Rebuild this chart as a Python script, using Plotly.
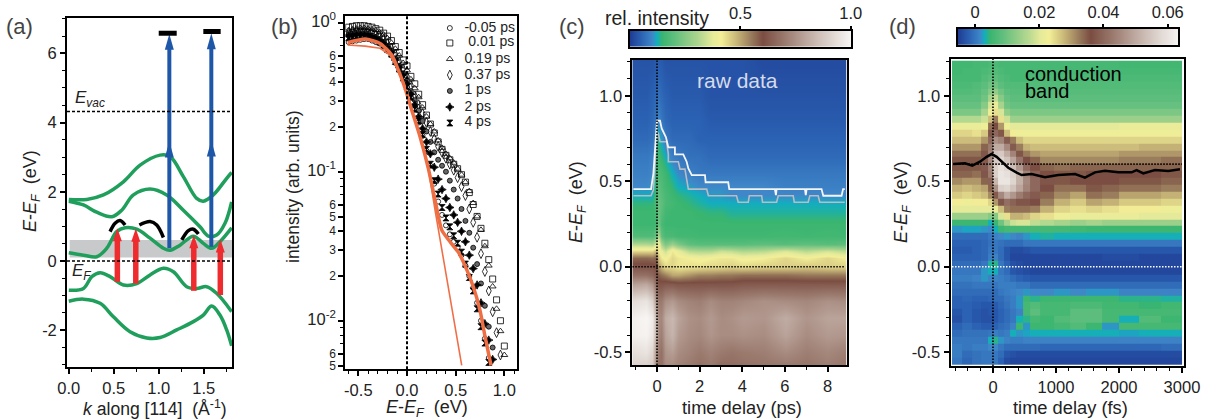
import numpy as np
import plotly.graph_objects as go

W, H = 1205, 420
FONT = "Liberation Sans"
TXT = "#222222"

# ---------- panel (a) ----------
a_k1 = [0, .2, .385, .607, .793, 1.015, 1.126, 1.274, 1.422, 1.496, 1.607, 1.756, 1.811]
a_e1 = [1.78, 1.78, 1.91, 2.29, 2.77, 3.06, 3.02, 2.44, 1.81, 1.73, 1.91, 2.39, 2.56]
a_k2 = [0, .163, .311, .478, .589, .719, .904, 1.089, 1.274, 1.459, 1.552, 1.644, 1.737, 1.811]
a_e2 = [1.73, 1.62, 1.41, 1.28, 1.47, 1.91, 2.08, 1.91, 1.47, .99, .72, .75, 1.09, 1.71]
a_k3 = [0, .163, .311, .422, .533, .626, .756, .904, 1.052, 1.126, 1.237, 1.385, 1.496, 1.589, 1.681, 1.811]
a_e3 = [.24, .17, .125, .37, .85, .96, .92, .66, .37, .31, .46, .72, .51, .37, .56, .96]
a_k4 = [0, .163, .256, .348, .459, .607, .756, .904, 1.052, 1.163, 1.311, 1.422, 1.533, 1.644, 1.811]
a_e4 = [-.84, -.79, -.45, -.34, -.45, -.69, -.65, -.40, -.21, -.31, -.74, -.79, -.74, -.93, -1.46]
a_k5 = [0, .163, .348, .496, .681, .867, 1.015, 1.2, 1.385, 1.496, 1.589, 1.681, 1.756, 1.811]
a_e5 = [-1.16, -1.10, -1.22, -1.61, -2.04, -2.22, -2.21, -1.99, -1.75, -1.56, -1.30, -1.56, -1.99, -2.45]
a_bands = [(a_k1, a_e1), (a_k2, a_e2), (a_k3, a_e3), (a_k4, a_e4), (a_k5, a_e5)]
arc_k = [[.459, .515, .57, .626], [.785, .904, .978, 1.052], [1.256, 1.33, 1.385, 1.441]]
arc_e = [[.85, 1.09, 1.17, 1.04], [1.04, 1.14, 1.04, .68], [.61, .88, .92, .78]]
red_k = [.54, .745, 1.39, 1.685]
red_bottom = [-.6, -.65, -.86, -.98]
red_top = [.95, .94, .75, .63]
blue_k = [1.118, 1.585]
blue_bottom = [.37, .41]
blue_mid = [3.45, 3.48]
blue_top = [6.56, 6.58]
bar_k = [[1.0, 1.2], [1.496, 1.689]]
bar_e = [6.58, 6.63]
E_vac = 4.32
gray_band = [.1, .61]

# ---------- panel (b) ----------
b_E = [-.60, -.56, -.52, -.48, -.44, -.40, -.36, -.32, -.28, -.24, -.20, -.16, -.12, -.08, -.04, 0,
       .04, .08, .12, .16, .20, .24, .28, .32, .36, .40, .44, .48, .52, .56, .60, .64, .68, .72, .76,
       .80, .84, .88, .92, .96, 1.0]
b_labels = ["-0.05 ps", " 0.01 ps", "0.19 ps", "0.37 ps", "1 ps", "2 ps", "4 ps"]
b_symbols = ["circle-open", "square-open", "triangle-up-open", "diamond-tall-open", "circle", "star-diamond", "hourglass"]
log_m005 = [-.13, -.125, -.12, -.115, -.11, -.11, -.12, -.13, -.14, -.16, -.19, -.22, -.27, -.32, -.38, -.43,
            -.5, -.58, -.67, -.76, -.86, -.96, -1.08, -1.2, -1.29, -1.36, -1.42, -1.47, -1.51, -1.56, -1.63,
            -1.7, -1.78, -1.88, -2.0, -2.12, -2.25]
log_001 = [-.03, -.025, -.02, -.02, -.02, -.025, -.03, -.04, -.05, -.07, -.09, -.12, -.16, -.2, -.25, -.29,
           -.36, -.41, -.48, -.55, -.62, -.68, -.74, -.80, -.85, -.89, -.92, -.95, -.98, -1.02, -1.07,
           -1.14, -1.22, -1.30, -1.38, -1.48, -1.59, -1.72, -1.86, -2.0, -2.17]
log_019 = [-.05, -.045, -.04, -.035, -.035, -.04, -.045, -.05, -.065, -.08, -.105, -.135, -.175, -.22, -.27, -.32,
           -.38, -.44, -.5, -.57, -.63, -.68, -.73, -.79, -.84, -.88, -.91, -.94, -.98, -1.02, -1.07,
           -1.13, -1.21, -1.30, -1.39, -1.50, -1.63, -1.77, -1.92, -2.07, -2.23]
log_037 = [-.07, -.065, -.06, -.06, -.06, -.065, -.07, -.08, -.09, -.11, -.14, -.17, -.21, -.26, -.31, -.36,
           -.42, -.49, -.55, -.61, -.67, -.73, -.78, -.83, -.87, -.91, -.95, -.99, -1.04, -1.10, -1.16,
           -1.25, -1.34, -1.44, -1.55, -1.67, -1.80, -1.94, -2.08, -2.23]
log_1 = [-.08, -.075, -.07, -.07, -.07, -.075, -.085, -.095, -.11, -.13, -.16, -.19, -.24, -.29, -.34, -.39,
         -.46, -.52, -.59, -.66, -.73, -.8, -.87, -.92, -.96, -1.0, -1.06, -1.12, -1.18, -1.25, -1.33,
         -1.41, -1.51, -1.62, -1.75, -1.9, -2.04, -2.18]
log_2 = [-.09, -.085, -.08, -.08, -.08, -.085, -.095, -.105, -.12, -.14, -.17, -.2, -.25, -.3, -.35, -.41,
         -.48, -.55, -.63, -.71, -.8, -.88, -.97, -1.05, -1.12, -1.18, -1.24, -1.29, -1.34, -1.4, -1.47,
         -1.56, -1.65, -1.76, -1.88, -2.02, -2.13, -2.26]
log_4 = [-.1, -.095, -.09, -.09, -.09, -.095, -.105, -.115, -.13, -.15, -.18, -.21, -.26, -.31, -.37, -.43,
         -.5, -.58, -.66, -.75, -.85, -.95, -1.06, -1.15, -1.24, -1.31, -1.37, -1.43, -1.48, -1.54, -1.62,
         -1.71, -1.8, -1.92, -2.04, -2.15, -2.28]
b_logs = [log_m005, log_001, log_019, log_037, log_1, log_2, log_4]
thick_E = [-.61, -.43, -.277, -.157, -.089, -.02, .048, .134, .219, .288, .356, .442, .527, .596, .68, .75, .80, .863]
thick_log = [-.134, -.11, -.139, -.217, -.318, -.44, -.586, -.765, -.978, -1.19, -1.39, -1.47, -1.54, -1.63, -1.77, -1.93, -2.1, -2.30]
thin_E = [-.61, -.43, -.277, -.175, -.089, -.02, .048, .134, .219, .288, .562]
thin_log = [-.15, -.157, -.172, -.217, -.318, -.44, -.586, -.765, -.978, -1.257, -2.30]
b_key_E = .44
b_text_E = .59
b_key_log = [-.036, -.136, -.244, -.351, -.458, -.566, -.673]

# ---------- panel (c) ----------
c_t = [-1.16, -.5, -.2, -.05, .05, .2, .4, .7, 1.0, 1.5, 2, 2.5, 3, 3.5, 4, 5, 6, 7, 8, 8.9]
c_E = [1.21, 1.0, .85, .75, .65, .55, .47, .42, .37, .32, .25, .18, .13, .09, .05, 0, -.05, -.1, -.2, -.3, -.4, -.5, -.575]
c_rows = [
    [3, 3, 3, 4, 4, 4, 3, 3, 3, 3, 3, 3, 3, 3, 3, 2, 2, 2, 2, 2],
    [4, 4, 5, 6, 7, 6, 5, 4, 4, 4, 4, 3, 3, 3, 3, 3, 3, 3, 3, 3],
    [5, 5, 6, 8, 10, 8, 6, 5, 5, 5, 5, 4, 4, 4, 4, 4, 4, 4, 4, 4],
    [6, 6, 7, 12, 13, 11, 8, 6, 6, 6, 5, 5, 5, 5, 5, 5, 5, 5, 5, 5],
    [8, 8, 9, 14, 16, 14, 12, 9, 8, 7, 7, 6, 6, 6, 6, 6, 6, 6, 6, 6],
    [9, 9, 10, 15, 18, 17, 15, 12, 10, 9, 8, 8, 8, 8, 8, 8, 8, 8, 8, 8],
    [10, 10, 11, 16, 20, 18, 16, 14, 12, 11, 10, 10, 10, 10, 10, 10, 9, 9, 9, 9],
    [12, 12, 12, 17, 21, 19, 17, 15, 14, 13, 12, 11, 11, 10, 10, 10, 10, 10, 10, 10],
    [14, 14, 14, 18, 22, 20, 17, 16, 15, 14, 13, 12, 12, 12, 12, 12, 12, 12, 12, 12],
    [15, 15, 15, 17, 22, 19, 16, 15, 15, 15, 14.5, 14, 14, 13, 13, 13, 13, 13, 13, 13],
    [15, 15, 15, 16, 23, 17, 15, 15, 15, 15, 15, 15, 15, 15, 15, 15, 15, 15, 15, 15],
    [18, 18, 18, 22, 32, 20, 17, 17, 16, 16, 15.5, 15.5, 15.5, 15.5, 15.5, 15.5, 16, 15.5, 16, 15.5],
    [31, 31, 30, 36, 42, 30, 24, 28, 24, 20, 19, 19, 19, 19, 19, 20, 19, 20, 19, 20],
    [44, 44, 44, 48, 42, 38, 34, 42, 38, 32, 31, 31, 34, 33, 31, 32, 36, 32, 35, 32],
    [57, 57, 56, 58, 46, 42, 40, 44, 42, 41, 40, 41, 42, 42, 40, 41, 44, 41, 44, 41],
    [62, 62, 62, 60, 52, 48, 44, 44, 42, 43, 43, 44, 44, 45, 44, 45, 45, 46, 45, 45],
    [68, 68, 66, 62, 58, 56, 54, 50, 50, 52, 54, 54, 55, 55, 56, 56, 56, 55, 55, 55],
    [78, 80, 76, 66, 62, 62, 63, 63, 62, 62, 62, 62, 62, 62, 63, 63, 63, 63, 63, 63],
    [93, 95, 90, 74, 70, 70, 75, 77, 74, 72, 71, 74, 72, 72, 73, 75, 74, 73, 75, 74],
    [98, 100, 97, 82, 74, 73, 81, 84, 79, 75, 74, 77, 74, 75, 77, 76, 81, 76, 79, 79],
    [98, 99, 96, 80, 73, 71, 79, 83, 77, 74, 73, 76, 74, 74, 75, 74, 79, 74, 77, 76],
    [93, 95, 91, 74, 70, 68, 76, 78, 74, 72, 70, 72, 70, 69, 70, 71, 74, 71, 73, 71],
    [90, 90, 88, 72, 68, 68, 74, 74, 72, 70, 68, 70, 67, 67, 68, 69, 70, 69, 71, 69],
]
c_white_t = [-1.11, -.28, -.17, 0, .14, .22, .42, .53, .84, .84, 1.23, 1.39, 1.47, 1.63, 2.25, 2.28, 3.34, 3.39,
             5.53, 5.58, 5.61, 6.94, 6.98, 7.02, 7.72, 7.8, 8.66, 8.73, 8.81]
c_white_E = [.454, .454, .546, .854, .854, .809, .757, .698, .698, .657, .657, .614, .575, .536, .536, .494, .494, .454,
             .454, .419, .454, .454, .419, .454, .454, .415, .415, .454, .454]
c_gray_t = [-1.11, -.28, -.17, 0, .06, .14, .45, .53, .53, 1.0, 1.08, 1.31, 1.47, 2.33, 2.41, 3.73, 3.81, 4.28, 4.33,
            4.91, 4.95, 5.61, 5.69, 6.39, 6.44, 7.09, 7.17, 7.56, 7.64, 8.81]
c_gray_E = [.415, .415, .448, .78, .78, .731, .731, .659, .614, .614, .571, .571, .454, .454, .415, .415, .377, .377, .415,
            .415, .377, .377, .415, .415, .377, .377, .415, .415, .377, .377]

# ---------- panel (d) ----------
d_t_edges = [-650, -490, -325, -185, -80, 0, 80, 170, 270, 370, 470, 585, 750, 975, 1225, 1475, 1725, 2000, 2325, 2675, 3000]
d_E = [1.185, 1.145, 1.105, 1.064, 1.024, .984, .943, .903, .863, .822, .782, .741, .701, .661, .620, .580, .540, .499,
       .459, .418, .378, .338, .297, .257, .217, .176, .136, .096, .055, .015, -.026, -.066, -.106, -.147, -.187, -.228,
       -.268, -.308, -.349, -.389, -.430, -.470, -.510, -.551]
d_rows = [  # thousandths
    [5.5, 5.5, 6, 6, 6.5, 6.5, 6, 6, 6, 6, 6, 6, 6, 6, 6, 6, 6, 5.5, 5.5, 5.5],
    [5.5, 6, 6, 6.5, 7, 7, 6.5, 6, 6, 6, 6, 6, 6, 6, 6, 6, 6, 6, 6, 6],
    [6, 6, 6, 7, 8, 8, 7, 6.5, 6, 6, 6, 6.5, 6.5, 6.5, 6.5, 6.5, 6.5, 6.5, 6.5, 6.5],
    [6.5, 6.5, 7, 8, 10, 10, 8, 7, 7, 7, 7, 7, 7, 7, 7, 7, 7, 7, 7, 7],
    [7, 7, 7.5, 9, 12, 13, 10, 8, 7.5, 7.5, 7.5, 7.5, 7.5, 7.5, 7.5, 7.5, 7.5, 7.5, 7.5, 7.5],
    [8, 8, 8, 10, 15, 17, 12, 9, 8, 8, 8, 8, 8, 8, 8, 8, 8, 8, 8, 8],
    [9, 9, 9, 12, 19, 21, 15, 10, 9, 9, 9, 9, 9, 9, 9, 9, 9, 9, 9, 9],
    [11, 11, 11, 15, 22, 24, 19, 13, 11, 11, 11, 11, 11, 11, 11, 11, 11, 11, 11, 11],
    [16, 16, 16, 18, 27, 32, 24, 18, 14, 14, 14, 14, 14, 14, 14, 14, 14, 14, 14, 14],
    [21, 21, 21, 22, 33, 36, 30, 22, 20, 20, 20, 20, 20, 20, 20, 20, 20, 21, 21, 21],
    [25, 25, 24, 26, 37, 40, 35, 27, 23, 22, 22, 22, 22, 22, 22, 22, 22, 22, 22, 22],
    [27, 27, 27, 30, 40, 46, 44, 38, 32, 27, 25, 25, 25, 25, 25, 25, 25, 25, 25, 25],
    [30, 30, 30, 34, 43, 50, 50, 45, 38, 32, 28, 27, 27, 27, 27, 27, 27, 27, 28, 28],
    [33, 33, 33, 37, 44, 54, 55, 50, 44, 37, 32, 30, 29, 29, 29, 29, 29, 30, 30, 30],
    [35, 35, 35, 38, 45, 55, 57, 54, 49, 42, 36, 34, 31, 31, 31, 31, 31, 32, 32, 33],
    [35, 35, 35, 38, 44, 56, 59, 57, 53, 47, 40, 36, 34, 33, 34, 34, 34, 34, 34, 34],
    [34, 34, 33, 37, 43, 56, 60, 59, 56, 51, 44, 39, 36, 35, 35, 36, 36, 36, 36, 35],
    [31, 30, 30, 34, 39, 52, 60, 60, 57, 51, 45, 40, 37, 35, 36, 36, 36, 35, 35, 34],
    [28, 27, 28, 29, 34, 46, 56, 57, 54, 49, 44, 40, 36, 33, 33, 35, 34, 33, 33, 32],
    [26, 25, 26, 27, 31, 38, 45, 50, 47, 43, 40, 38, 34, 31, 29, 33, 32, 29, 29, 28],
    [23, 22, 23, 23, 25, 30, 37, 41, 39, 37, 37, 36, 32, 28, 26, 29, 28, 26, 26, 25],
    [20, 20, 20, 20, 20, 21, 27, 32, 33, 33, 33, 32, 28, 25, 24, 25, 24, 23, 23, 22],
    [14, 14, 14, 14, 12, 12, 19, 24, 28, 28, 27, 25, 24, 22, 21, 21, 21, 21, 20, 20],
    [5, 5, 5, 5, 3, 5, 10, 15, 18, 19, 19, 17, 16, 15, 14, 15, 14, 14, 14, 14],
    [2, 2.5, 2.5, 2, 1.5, 3, 5, 6, 6, 6, 6, 6, 6, 6, 5.5, 5, 5, 5, 5, 5],
    [-1, -1, -1, -1, 0, 1, 1.5, 2, 1.5, 1, 2, 3, 3.5, 3, 3, 3, 3, 3, 3, 3],
    [-2, -2, -2, -1.5, -.5, 0, -.5, -1, -1, -1, 0, 0, 0, 0, 0, 0, 0, 0, 0, 0],
    [-2.5, -2.5, -2, -1.5, 0, 0, -1, -3, -4, -4, -3.5, -3, -3, -3, -3, -3, -3, -3, -3, -3],
    [-2, -2, -2, -1.5, .5, 1, -1, -3, -4.5, -4.5, -4.5, -4.5, -4.5, -4.5, -4.5, -4.5, -4, -4, -4.5, -4.5],
    [-1, -1, -1, 0, 3.5, 4, 0, -2, -3.5, -4, -4.5, -4.5, -4.5, -4.5, -4.5, -4.5, -4.5, -4.5, -4.5, -4.5],
    [0, 0, 0, 2, 3, 3, 0, -1, -3, -3.5, -4, -4.5, -4.5, -4.5, -4.5, -4.5, -4.5, -4.5, -4.5, -4.5],
    [.5, .5, 1, 2, 1, 1, .5, 0, -1, -2, -2.5, -3, -3, -3, -3, -3, -3, -3, -3, -3],
    [-.5, -.5, 0, 0, 0, 0, .5, .5, .5, 0, 0, -1, -1, -1, -1, -1, -1, -1, -1, -1],
    [-1, -1, -1, -1, -1, -1, 0, .5, 1, 1.5, 2, 1.5, 1.5, 2, 1.5, 2, 2, 1, 1, 1],
    [-2, -1.5, -2, -2, -1.5, -1, -1, 0, .5, 2, 5, 4, 5, 5, 5, 5, 5, 4, 4, 3.5],
    [-2, -2, -2.5, -3, -3, -2.5, -1.5, -.5, .5, 2, 6, 7, 6, 6, 6.5, 6.5, 5.5, 5.5, 4.5, 5.5],
    [-3, -2, -3, -3.5, -3, -3, -2, -1, 0, 1, 6, 8, 6, 6, 8, 8, 6, 6, 6, 6],
    [-3.5, -2, -3, -3.5, -3.5, -3, -2, -1, 0, 3, 4, 6, 5, 7, 8, 8, 6, 3, 7, 5],
    [-2, -1, -2, -2.5, -2.5, -2, -1, -.5, 1, 5, 2, 5, 5, 6, 7, 5, 2, 6, 6, 6],
    [-1, -.5, -.5, -.5, 0, .5, 0, .5, 3, 2, 2.5, 3, 3, 3, 3, 3, 3, 2.5, 3, 3],
    [0, 0, 0, 0, 3, 4, 2, 1, .5, .5, 1, 1, 1, 1, 1, 1, 1, 1, 1, 1],
    [.5, 0, .5, .5, 1.5, 1.5, 0, -1, -1, -1, -1, -1, -1.5, -1.5, -1.5, -1.5, -1.5, -1.5, -1.5, -1],
    [.5, -1, -.5, 0, 0, 0, -1, -3, -3.5, -4, -4, -4, -4, -4, -4, -4, -4, -4, -4, -4],
    [0, -1.5, -.5, 0, 0, 0, -2, -4, -4.5, -4.5, -4.5, -4.5, -4.5, -4.5, -4.5, -4.5, -4.5, -4.5, -4.5, -4.5],
]
d_line_t = [-630, -444, -328, -206, -100, -21, 58, 138, 243, 376, 455, 614, 825, 1037, 1302, 1460, 1619, 1778, 1989, 2201, 2280, 2386, 2571, 2783, 2968]
d_line_E = [.601, .605, .591, .614, .643, .659, .643, .614, .579, .55, .536, .542, .523, .536, .542, .521, .552, .561, .552, .552, .565, .546, .565, .56, .57]

colorscale = [
    [0, "#1f3d94"], [.05, "#2b62b3"], [.1, "#3f87c8"], [.12, "#12aebf"], [.145, "#39b56f"],
    [.2, "#5fbe7d"], [.3, "#a9d48d"], [.37, "#e5ea9a"], [.41, "#f3ef97"], [.48, "#c8b678"],
    [.55, "#96785a"], [.6, "#7b4d42"], [.7, "#9b7a6e"], [.8, "#bda89f"], [.9, "#dcd2cc"], [1, "#f8f6f4"],
]

def px_x(p0, p1):
    return [p0 / W, p1 / W]

def px_y(top, bottom):
    return [1 - bottom / H, 1 - top / H]

fig = go.Figure()

# panel a
for k, e in a_bands:
    fig.add_trace(go.Scatter(x=k, y=e, xaxis="x", yaxis="y", mode="lines",
                             line=dict(color="#1f9f5b", width=3.5, shape="spline", smoothing=1)))
for k, e in zip(arc_k, arc_e):
    fig.add_trace(go.Scatter(x=k, y=e, xaxis="x", yaxis="y", mode="lines",
                             line=dict(color="black", width=3.5, shape="spline")))

def arrow(k, e0, e1, color, shaft, hw, hl):
    fig.add_trace(go.Scatter(x=[k, k], y=[e0, e1 - hl * .8], xaxis="x", yaxis="y", mode="lines",
                             line=dict(color=color, width=shaft)))
    fig.add_trace(go.Scatter(x=[k - hw, k, k + hw, k - hw], y=[e1 - hl, e1, e1 - hl, e1 - hl],
                             xaxis="x", yaxis="y", mode="lines", fill="toself", fillcolor=color,
                             line=dict(color=color, width=0)))

for k, b, m, t in zip(blue_k, blue_bottom, blue_mid, blue_top):
    arrow(k, m - .3, t, "#1f57a8", 4, .05, .46)
    arrow(k, b, m, "#1f57a8", 4, .05, .46)
for k, b, t in zip(red_k, red_bottom, red_top):
    arrow(k, b, t, "#ee2b2e", 5.5, .05, .38)
for k, e in zip(bar_k, bar_e):
    fig.add_trace(go.Scatter(x=k, y=[e, e], xaxis="x", yaxis="y", mode="lines", line=dict(color="black", width=5)))

# panel b
sizes = [5, 6, 6, 7, 5, 6, 6]
for lg, sym, sz in zip(b_logs, b_symbols, sizes):
    color = "#666666" if sym == "circle" else "black"
    fig.add_trace(go.Scatter(x=b_E, y=10 ** np.array(lg), xaxis="x2", yaxis="y2", mode="markers",
                             marker=dict(symbol=sym, size=sz, color=color, line=dict(color="black", width=.8))))
fig.add_trace(go.Scatter(x=thin_E, y=10 ** np.array(thin_log), xaxis="x2", yaxis="y2", mode="lines",
                         line=dict(color="#ef7048", width=1.6)))
fig.add_trace(go.Scatter(x=thick_E, y=10 ** np.array(thick_log), xaxis="x2", yaxis="y2", mode="lines",
                         line=dict(color="#ef6f45", width=3.5, shape="spline", smoothing=.6)))
for lg, sym, sz, lab in zip(b_key_log, b_symbols, sizes, b_labels):
    color = "#666666" if sym == "circle" else "black"
    fig.add_trace(go.Scatter(x=[b_key_E], y=[10 ** lg], xaxis="x2", yaxis="y2", mode="markers",
                             marker=dict(symbol=sym, size=sz, color=color, line=dict(color="black", width=.8))))
    fig.add_trace(go.Scatter(x=[b_text_E], y=[10 ** lg], xaxis="x2", yaxis="y2", mode="text",
                             text=[lab], textposition="middle right",
                             textfont=dict(family=FONT, size=14, color=TXT)))

# panel c
fig.add_trace(go.Heatmap(x=c_t, y=c_E[::-1], z=(np.array(c_rows)[::-1] / 100), xaxis="x3", yaxis="y3",
                         colorscale=colorscale, zmin=0, zmax=1, zsmooth="best", showscale=False))
fig.add_trace(go.Scatter(x=c_gray_t, y=c_gray_E, xaxis="x3", yaxis="y3", mode="lines",
                         line=dict(color="#b8bcc4", width=1.6)))
fig.add_trace(go.Scatter(x=c_white_t, y=c_white_E, xaxis="x3", yaxis="y3", mode="lines",
                         line=dict(color="#f4f5f8", width=1.8)))

# panel d
fig.add_trace(go.Heatmap(x=d_t_edges, y=d_E[::-1], z=(np.array(d_rows)[::-1] / 1000), xaxis="x4", yaxis="y4",
                         colorscale=colorscale, zmin=-.0054, zmax=.0633, showscale=False))
fig.add_trace(go.Scatter(x=d_line_t, y=d_line_E, xaxis="x4", yaxis="y4", mode="lines",
                         line=dict(color="black", width=2.5)))

# colour bars: a ramp through each panel's colour range
def ramp(zmin, zmax, xa, ya):
    lv = np.linspace(zmin, zmax, 220)
    fig.add_trace(go.Heatmap(x=lv, y=[0, 1], z=[lv, lv], xaxis=xa, yaxis=ya, colorscale=colorscale,
                             zmin=zmin, zmax=zmax, showscale=False, zsmooth="best"))

ramp(0, 1, "x5", "y5")
ramp(-.0054, .0633, "x6", "y6")

TICK = 16.5

def axis(domain, rng, anchor, tickvals, ticktext, minor_dtick=None, width=1.8, tick_size=TICK, **kw):
    d = dict(domain=domain, range=rng, anchor=anchor, showgrid=False, zeroline=False, showline=True,
             linecolor="black", linewidth=width, mirror=True, ticks="outside", ticklen=5, tickwidth=1.5,
             tickcolor="black", tickmode="array", tickvals=tickvals, ticktext=ticktext,
             tickfont=dict(family=FONT, size=tick_size, color=TXT))
    if minor_dtick:
        d["minor"] = dict(ticks="outside", ticklen=3, tickwidth=1.2, tickcolor="black", dtick=minor_dtick, tick0=0, showgrid=False)
    d.update(kw)
    return d

b_tickvals = [.005, .006, .01, .02, .03, .04, .05, .06, .1, .2, .3, .4, .5, .6, 1]
b_dec = '<span style="font-size:16.5px">10<sup>%s</sup></span>'
b_ticktext = ["5", "6", b_dec % "-2", "2", "3", "4", "5", "6", b_dec % "-1", "2", "3", "4", "5", "6", b_dec % "0"]
b_minor = [.007, .008, .009, .07, .08, .09, .7, .8, .9]

fig.update_layout(
    width=W, height=H, margin=dict(l=0, r=0, t=0, b=0, autoexpand=False), showlegend=False,
    paper_bgcolor="white", plot_bgcolor="white", font=dict(family=FONT, color=TXT),
    xaxis=axis(px_x(67, 232), [-.02, 1.815], "y", [0, .5, 1, 1.5], ["0.0", "0.5", "1.0", "1.5"], .25),
    yaxis=axis(px_y(18, 367), [-3.06, 7.02], "x", [-2, 0, 2, 4, 6], ["-2", "0", "2", "4", "6"], .5),
    xaxis2=axis(px_x(345.3, 516.7), [-.634, 1.127], "y2", [-.5, 0, .5, 1], ["-0.5", "0.0", "0.5", "1.0"], .1),
    yaxis2=axis(px_y(16, 369.3), [-2.326, .045], "x2", b_tickvals, b_ticktext, None, tick_size=12, type="log",
                minor=dict(ticks="outside", ticklen=3, tickwidth=1.2, tickcolor="black", tickmode="array",
                           tickvals=b_minor, showgrid=False)),
    xaxis3=axis(px_x(632.3, 846.7), [-1.16, 8.9], "y3", [0, 2, 4, 6, 8], ["0", "2", "4", "6", "8"], 1),
    yaxis3=axis(px_y(60, 365), [-.575, 1.209], "x3", [-.5, 0, .5, 1], ["-0.5", "0.0", "0.5", "1.0"], .1),
    xaxis4=axis(px_x(950.7, 1184), [-671, 3032], "y4", [0, 1000, 2000, 3000], ["0", "1000", "2000", "3000"], 200, width=2.4),
    yaxis4=axis(px_y(59, 366), [-.581, 1.215], "x4", [-.5, 0, .5, 1], ["-0.5", "0.0", "0.5", "1.0"], .1, width=2.4),
    xaxis5=axis(px_x(630, 850.7), [0, 1], "y5", [.5, 1], ["0.5", "1.0"], side="top", ticklen=3),
    yaxis5=axis(px_y(30.7, 46.7), [0, 1], "x5", [], [], ticks=""),
    xaxis6=axis(px_x(957.7, 1178.3), [-.0054, .0633], "y6", [0, .02, .04, .06], ["0", "0.02", "0.04", "0.06"], side="top", ticklen=3),
    yaxis6=axis(px_y(29, 44.7), [0, 1], "x6", [], [], ticks=""),
)

def hline(y, x0, x1, xr, yr, color, dash, width=1.6, layer="above"):
    fig.add_shape(type="line", x0=x0, x1=x1, y0=y, y1=y, xref=xr, yref=yr, layer=layer,
                  line=dict(color=color, dash=dash, width=width))

def vline(x, y0, y1, xr, yr, color, dash, width=1.6):
    fig.add_shape(type="line", x0=x, x1=x, y0=y0, y1=y1, xref=xr, yref=yr, layer="above",
                  line=dict(color=color, dash=dash, width=width))

fig.add_shape(type="rect", x0=.01, x1=1.815, y0=gray_band[0], y1=gray_band[1], xref="x", yref="y",
              layer="below", fillcolor="#c8c9cb", line=dict(width=0))
hline(E_vac, -.02, 1.815, "x", "y", "black", "3px,2px")
hline(0, -.02, 1.815, "x", "y", "black", "3px,2px")
vline(0, .00472, 1.109, "x2", "y2", "black", "3px,2px", 2)
vline(0, -.575, 1.209, "x3", "y3", "black", "1.5px,1.5px")
hline(0, -1.16, 8.8, "x3", "y3", "black", "1.5px,1.5px")
vline(0, -.581, 1.215, "x4", "y4", "black", "1.5px,1.5px")
hline(0, -650, 3000, "x4", "y4", "white", "1.5px,1.5px")
hline(.6, -630, 3000, "x4", "y4", "black", "1.5px,1.5px")

def note(x, y, text, size=17, angle=0, color=TXT, xanchor="center"):
    fig.add_annotation(x=x / W, y=1 - y / H, xref="paper", yref="paper", text=text, showarrow=False,
                       xanchor=xanchor, yanchor="middle", textangle=angle,
                       font=dict(family=FONT, size=size, color=color))

EEF = "<i>E</i>-<i>E<sub>F</sub></i>  (eV)"
for x, lab in zip([19, 284, 572, 902], ["(a)", "(b)", "(c)", "(d)"]):
    note(x, 26, lab, 22, color="#444444")
note(32, 191, EEF, 18, -90)
note(155, 408, "<i>k</i> along [114]  (Å<sup>-1</sup>)", 17.6)
note(293, 187, "intensity (arb. units)", 17.5, -90)
note(427, 408, EEF, 18)
note(577, 202, EEF, 18, -90)
note(742, 407, "time delay (ps)", 18.3)
note(902, 202, EEF, 18, -90)
note(1070, 407, "time delay (fs)", 18.3)
note(73, 99, "<i>E<sub>vac</sub></i>", 17, xanchor="left")
note(70, 272, "<i>E<sub>F</sub></i>", 17, xanchor="left")
note(603, 18, "rel. intensity", 19.5, xanchor="left")
note(737, 80, "raw data", 21, color="#d5dbea")
note(1023, 74, "conduction", 20, color="black", xanchor="left")
note(1023, 91, "band", 20, color="black", xanchor="left")

fig.write_html("out.html", config=dict(displayModeBar=False),
               post_script="document.body.style.margin='0';document.documentElement.style.overflow='hidden';")
